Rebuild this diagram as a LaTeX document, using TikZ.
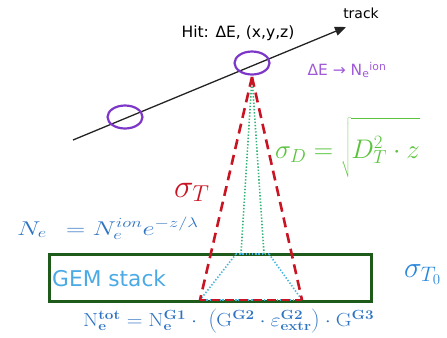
\RequirePackage{fix-cm}
\documentclass[tikz,border=0pt]{standalone}
\usepackage[no-math]{fontspec}
\setmainfont{DejaVu Sans}
\usetikzlibrary{shapes.geometric,arrows.meta}
\definecolor{trackgray}{RGB}{35,35,35}
\definecolor{hitpurple}{RGB}{125,55,200}
\definecolor{lblpurple}{RGB}{160,90,215}
\definecolor{sigred}{RGB}{200,20,35}
\definecolor{sigdgreen}{RGB}{90,195,60}
\definecolor{dotgreen}{RGB}{50,180,120}
\definecolor{dotcyan}{RGB}{70,180,225}
\definecolor{formblue}{RGB}{45,115,195}
\definecolor{gemblue}{RGB}{75,170,230}
\definecolor{sigtblue}{RGB}{40,135,220}
\definecolor{boxgreen}{RGB}{30,90,25}
\begin{document}
\begin{tikzpicture}[x=1bp,y=-1bp,
  hitell/.style={draw=hitpurple,line width=2.2bp,ellipse,minimum width=35bp,minimum height=23bp,inner sep=0pt},
  reddash/.style={draw=sigred,line width=2.6bp,dash pattern=on 10bp off 6bp},
  greendot/.style={draw=dotgreen,line width=1.6bp,dash pattern=on 1.4bp off 1.8bp},
  cyandot/.style={draw=dotcyan,line width=1.6bp,dash pattern=on 1.4bp off 1.8bp},
  txt/.style={inner sep=0pt},
  mtxt/.style={inner sep=0pt,anchor=base west},
]
\useasboundingbox (0,0) rectangle (447,337);
\clip (0,0) rectangle (447,337);
% track
\coordinate (ts) at (73,140);
\coordinate (te) at (346,27);
\draw[trackgray,line width=1.3bp,-{Triangle[length=11bp,width=9bp]}] (ts) -- (te);
\node[hitell] (h1) at (252,63) {};
\node[hitell] (h2) at (125,117) {};
\node[txt,font=\fontsize{14}{16}\selectfont,text=black] (tr) at (361,13) {track};
\node[txt,font=\fontsize{15.6}{17}\selectfont,text=black] (hit) at (238,33) {Hit: ΔE, (x,y,z)};
\node[txt,font=\fontsize{15.5}{17}\selectfont,text=lblpurple] (de) at (347,70) {ΔE → N\textsubscript{e}\textsuperscript{ion}};
% GEM box
\node[draw=boxgreen,line width=3bp,minimum width=321bp,minimum height=47bp,inner sep=0pt] (box) at (210.5,277.5) {};
\node[txt,anchor=west,font=\fontsize{21.8}{24}\selectfont,text=gemblue] (gem) at (52,278) {GEM stack};
% cones
\coordinate (apex) at (252,77);
\coordinate (rl) at (200,300);
\coordinate (rr) at (302,300);
\coordinate (gl) at (241,254);
\coordinate (gr) at (264,254);
\coordinate (cl) at (236,254);
\coordinate (cr) at (269,254);
\draw[greendot] (apex) -- (gl);
\draw[greendot] (apex) -- (gr);
\draw[cyandot] (cl) -- (cr);
\draw[cyandot] (cl) -- (rl);
\draw[cyandot] (cr) -- (rr);
\draw[cyandot] (rl) -- (rr);
\draw[reddash] (apex) -- (rl);
\draw[reddash] (apex) -- (rr);
\draw[sigred,line width=2.6bp,dash pattern=on 9bp off 5bp,dash phase=3bp] (rl) -- (rr);
% labels
\node[mtxt,text=sigred,font=\fontsize{33}{36}\selectfont] (st) at (174,197) {$\sigma_T$};
\node[mtxt,text=sigdgreen,font=\fontsize{27}{30}\selectfont] (sd) at (275,158) {$\sigma_D = \sqrt{\rule[-17bp]{0pt}{54bp}D_T^2\cdot z}$};
\node[mtxt,text=formblue,font=\fontsize{20}{22}\selectfont] (ne) at (17,235) {\scalebox{1.33}[1]{$N_e\;\,=N_e^{ion}e^{-z/\lambda}$}};
\node[mtxt,text=sigtblue,font=\fontsize{30}{33}\selectfont] (st0) at (404,277) {$\sigma_{T_0}$};
\node[mtxt,text=formblue,font=\fontsize{19}{22}\selectfont] (ntot) at (83,326) {\scalebox{1.15}[1]{$\mathrm{N_{\mathbf{e}}^{\mathbf{tot}} = N_{\mathbf{e}}^{\mathbf{G1}}\cdot\;\left(\rule[-7bp]{0pt}{22bp}G^{\mathbf{G2}}\cdot\varepsilon_{\mathbf{extr}}^{\mathbf{G2}}\right)\cdot G^{\mathbf{G3}}}$}};
\end{tikzpicture}
\end{document}
